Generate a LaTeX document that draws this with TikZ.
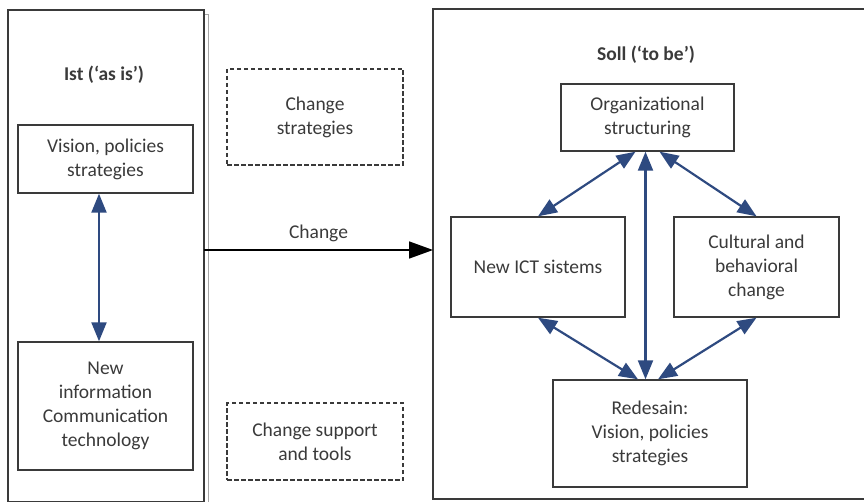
\documentclass[tikz,border=0pt]{standalone}
\usepackage{fontspec}
\setmainfont{Carlito}
\usetikzlibrary{arrows.meta}
\definecolor{inkgray}{HTML}{3A3A3A}
\definecolor{linkblue}{HTML}{2E4A80}
\tikzstyle{every node}=[text=inkgray,align=center,font=\fontsize{19.5}{24}\selectfont]
\tikzstyle{box}=[draw=inkgray,line width=1.4pt,inner sep=0pt]
\tikzstyle{dashbox}=[box,dash pattern=on 4.5pt off 2.5pt]
\tikzstyle{link}=[linkblue,line width=2.2pt,{Triangle[length=19pt,width=15pt]}-{Triangle[length=19pt,width=15pt]}]

\begin{document}
\begin{tikzpicture}[x=1pt,y=-1pt]
			\useasboundingbox (0,0) rectangle (864,502);
			\begin{scope}
				\clip (0,0) rectangle (864,502);
				% left frame with its shadow edge
				\draw[gray!70,line width=1pt] (204,15) -- (208.5,15) -- (208.5,510);
				\draw[inkgray,line width=1.4pt] (8,10) rectangle (204,501.5);
				% right frame
				\draw[inkgray,line width=1.4pt] (433,9) rectangle (880,499);
			\end{scope}
			\node [font=\fontsize{19.5}{24}\selectfont\bfseries] (ist) at (104,75) {Ist (‘as is’)};
			\node [box,minimum width=175pt,minimum height=68pt] (vis) at (105.5,159) {Vision, policies\\strategies};
			\node [box,minimum width=175pt,minimum height=128pt] (nict) at (105.5,406) {New\\information\\Communication\\technology};
			\node [dashbox,minimum width=176pt,minimum height=96pt] (chs) at (315,117) {Change\\strategies};
			\node [dashbox,minimum width=176pt,minimum height=77pt] (csup) at (315,441.5) {Change support\\and tools};
			\node [font=\fontsize{19.5}{24}\selectfont\bfseries] (soll) at (646,55) {Soll (‘to be’)};
			\node [box,minimum width=173pt,minimum height=67pt] (org) at (647.5,117.5) {Organizational\\structuring};
			\node [box,minimum width=174pt,minimum height=100pt] (ict) at (538,267) {New ICT sistems};
			\node [box,minimum width=165pt,minimum height=100pt] (cult) at (756.5,267) {Cultural and\\behavioral\\change};
			\node [box,minimum width=194pt,minimum height=107pt] (red) at (650,433.5) {Redesain:\\Vision, policies\\strategies};
			\coordinate (from) at (204,250);
			\coordinate (to) at (433,250);
			\draw [black,line width=1.5pt,-{Triangle[length=24pt,width=17pt]}] (from) -- node [above=4pt] {Change} (to);
			\draw [link] ([xshift=-6.5pt]vis.south) -- ([xshift=-6.5pt]nict.north);
			\draw [link] ([xshift=-2pt]org.south) -- ([xshift=-2pt]org.south |- red.north);
			\draw [link] ([xshift=-12pt]org.south) -- (ict.north);
			\draw [link] ([xshift=12pt]org.south) -- (cult.north);
			\draw [link] (ict.south) -- ([xshift=-12pt]red.north);
			\draw [link] (cult.south) -- ([xshift=8pt]red.north);
		\end{tikzpicture}
\end{document}
